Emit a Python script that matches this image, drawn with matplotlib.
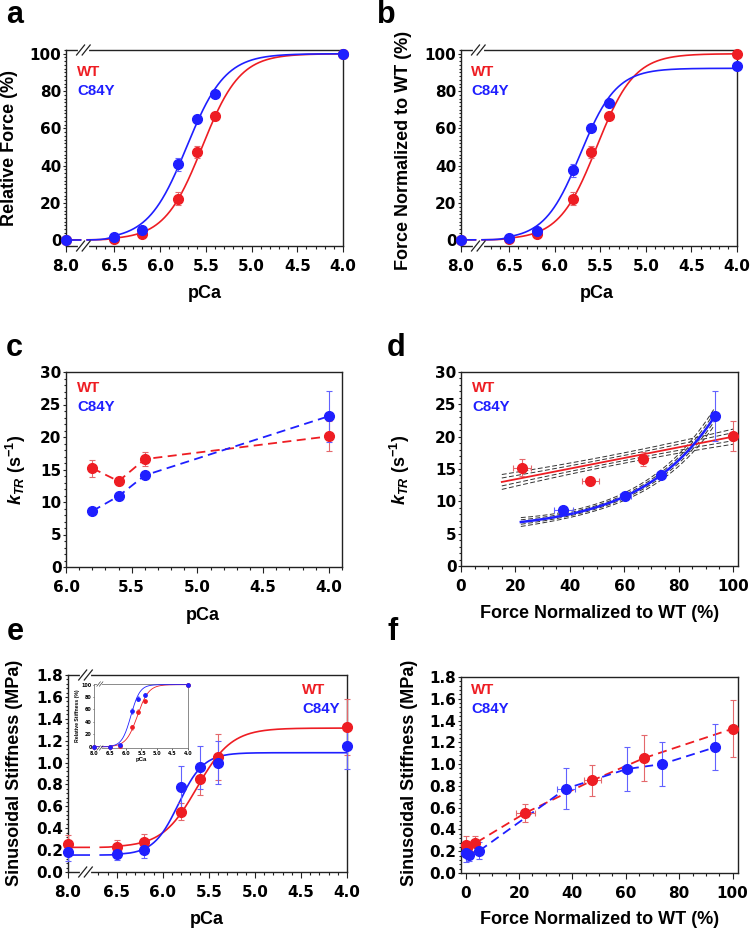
import numpy as np
import matplotlib
matplotlib.use('Agg')
import matplotlib.pyplot as plt
from matplotlib.ticker import MultipleLocator, FixedLocator

plt.rcParams['font.family'] = ['Liberation Sans', 'DejaVu Sans']
plt.rcParams['font.weight'] = 'bold'
plt.rcParams['mathtext.fontset'] = 'custom'
plt.rcParams['mathtext.rm'] = 'Liberation Sans:bold'
plt.rcParams['mathtext.it'] = 'Liberation Sans:italic:bold'
plt.rcParams['mathtext.bf'] = 'Liberation Sans:bold'

W, H = 750, 931
RED = '#ee1d23'
BLUE = '#1f1fff'
RED_ERR = '#e4686c'
BLUE_ERR = '#6262ff'

# ---- data ----
pca = [8.0, 6.5, 6.2, 5.8, 5.6, 5.4, 4.0]

force_wt = [0.3, 0.6, 3.6, 22.4, 47.5, 66.8, 100.0]
force_wt_err = [0.2, 0.5, 0.8, 3.5, 3.2, 1.5, 0.0]
force_c84y = [0.2, 1.8, 5.4, 40.7, 64.9, 78.3, 100.0]
force_c84y_err = [0.2, 0.6, 1.0, 3.6, 2.0, 1.5, 0.0]

normforce_wt = force_wt
normforce_wt_err = force_wt_err
normforce_c84y = [0.3, 1.4, 5.2, 37.6, 60.4, 73.5, 93.5]
normforce_c84y_err = [0.2, 0.5, 1.0, 3.5, 2.0, 1.5, 0.8]

# Hill fits: pCa50, nH, bottom, top
fit_force_wt = (5.54, 2.1, 0.3, 100.0)
fit_force_c84y = (5.71, 2.05, 0.2, 100.0)
fit_normforce_wt = (5.54, 2.1, 0.3, 100.0)
fit_normforce_c84y = (5.72, 2.2, 0.3, 92.2)

ktr_pca = [5.8, 5.6, 5.4, 4.0]
ktr_wt = [15.2, 13.2, 16.6, 20.1]
ktr_wt_err = [1.3, 0.6, 1.1, 2.3]
ktr_c84y = [8.6, 10.9, 14.1, 23.2]
ktr_c84y_err = [0.3, 0.6, 0.3, 3.9]
ktr_force_wt = [22.4, 47.5, 66.8, 100.0]
ktr_force_wt_err = [3.3, 3.2, 1.5, 0.0]
ktr_force_c84y = [37.6, 60.4, 73.5, 93.5]
ktr_force_c84y_err = [3.5, 2.0, 1.5, 0.8]

# kTR-force fits: WT linear (intercept, slope), C84Y exponential (offset, amp, rate)
ktr_fit_wt = (11.76, 0.0824)
ktr_fit_wt_range = (15, 100)
ktr_fit_c84y = (5.5, 0.581, 0.0366)
ktr_fit_c84y_range = (22, 93)

stiff_wt = [0.258, 0.23, 0.273, 0.552, 0.85, 1.055, 1.325]
stiff_wt_err = [0.08, 0.06, 0.07, 0.08, 0.145, 0.21, 0.26]
stiff_c84y = [0.18, 0.166, 0.205, 0.775, 0.955, 1.0, 1.155]
stiff_c84y_err = [0.08, 0.06, 0.08, 0.19, 0.2, 0.2, 0.21]
fit_stiff_wt = (5.63, 2.3, 0.225, 1.315)
fit_stiff_c84y = (5.83, 3.2, 0.155, 1.09)

rel_stiff_wt = [0, 0, 2, 31, 56, 73, 100]
rel_stiff_wt_err = [0, 0, 1, 4, 4, 3, 0]
rel_stiff_c84y = [0, 0, 3, 58, 77, 83, 100]
rel_stiff_c84y_err = [0, 0, 1, 5, 4, 3, 0]
fit_rel_wt = (5.63, 2.4, 0.0, 100.0)
fit_rel_c84y = (5.84, 3.0, 0.0, 100.0)

pca_ticks = [8.0, 6.5, 6.0, 5.5, 5.0, 4.5, 4.0]


def to_pos(p):
    # squeeze the 8.0 .. 6.5 stretch (broken axis)
    p = np.asarray(p, float)
    return np.where(p > 6.5, 6.5 + (p - 6.5) * 0.53 / 1.5, p)


def hill(p, fit):
    p50, n, lo, hi = fit
    return lo + (hi - lo) / (1 + 10 ** (n * (p - p50)))


fig = plt.figure(figsize=(W / 100, H / 100), dpi=100)


def px_ax(l, t, r, b):
    return fig.add_axes([l / W, 1 - b / H, (r - l) / W, (b - t) / H])


def ftext(x, y, s, **kw):
    fig.text(x / W, 1 - y / H, s, **kw)


def style(ax, fs=11, lw=1.0, ml=4, mn=2, xpad=5.5, ypad=0.8, yl=2.5):
    for sp in ax.spines.values():
        sp.set_linewidth(lw)
        sp.set_color('#222222')
    ax.tick_params(which='both', direction='out', top=False, right=False,
                   width=0.8 * lw, colors='#222222', labelcolor='black',
                   labelfontfamily='DejaVu Sans', labelsize=fs)
    ax.tick_params(axis='x', which='major', length=ml, pad=xpad)
    ax.tick_params(axis='x', which='minor', length=mn)
    ax.tick_params(axis='y', which='major', length=yl, pad=ypad)
    ax.tick_params(axis='y', which='minor', length=mn * 0.8)
    for lab in ax.get_xticklabels() + ax.get_yticklabels():
        lab.set_fontweight('bold')


def pca_axis(ax):
    ax.set_xlim(to_pos(8.0), 4.0)
    ax.set_xticks(to_pos(pca_ticks))
    ax.set_xticklabels(['%.1f' % v for v in pca_ticks])
    minors = [round(v, 1) for v in np.arange(4.1, 6.75, 0.1) if round(v * 10) % 5 != 0]
    ax.xaxis.set_minor_locator(FixedLocator(minors))


def draw_break(ax, xc, s=1.0):
    bb = ax.get_position()
    wpx, hpx = bb.width * W, bb.height * H
    x0, x1 = ax.get_xlim()
    xf = (xc - x0) / (x1 - x0)
    for y in (0.0, 1.0):
        ax.plot([xf - 3.5 * s / wpx, xf + 3.5 * s / wpx], [y, y], color='white',
                lw=3 * s, transform=ax.transAxes, clip_on=False, zorder=6)
        for d in (-2.8 * s, 2.8 * s):
            ax.plot([xf + (d - 4 * s) / wpx, xf + (d + 4 * s) / wpx],
                    [y - 5 * s / hpx, y + 5 * s / hpx], color='#222222', lw=0.9 * s,
                    transform=ax.transAxes, clip_on=False, zorder=7)


def hill_line(ax, fit, color, gap, lw=1.2):
    p = np.linspace(8.0, 4.0, 800)
    x = to_pos(p)
    y = hill(p, fit)
    y[(x < gap[0]) & (x > gap[1])] = np.nan
    ax.plot(x, y, color=color, lw=lw, zorder=3)


def points(ax, x, y, yerr, color, ecolor, xerr=None, ms=7.0, cap=2.5, elw=0.8):
    eb = ax.errorbar(x, y, yerr=yerr, xerr=xerr, fmt='o', color=color, ms=ms,
                     mec=color, ecolor=ecolor, elinewidth=elw, capsize=cap,
                     capthick=elw, zorder=4)
    for a in [eb[0], *eb[1], *eb[2]]:
        a.set_clip_on(False)


def legend(x, y, dy=19, fs=10.8):
    ftext(x, y, 'WT', color=RED, fontsize=fs, weight='bold', va='center', ha='left')
    ftext(x, y + dy, 'C84Y', color=BLUE, fontsize=fs, weight='bold', va='center', ha='left')


LAB = 13.0
LET = 22

# ---- a ----
ax = px_ax(66, 50, 343, 246)
pca_axis(ax)
ax.set_ylim(-3, 102)
ax.set_yticks(range(0, 101, 20))
ax.yaxis.set_minor_locator(MultipleLocator(2))
hill_line(ax, fit_force_wt, RED, (6.87, 6.80))
hill_line(ax, fit_force_c84y, BLUE, (6.87, 6.80))
points(ax, to_pos(pca), force_wt, force_wt_err, RED, RED_ERR)
points(ax, to_pos(pca), force_c84y, force_c84y_err, BLUE, BLUE_ERR)
style(ax)
draw_break(ax, 6.84)
legend(77, 72)
ftext(10, 148, 'Relative Force (%)', rotation=90, ha='center', va='center', fontsize=LAB)
ftext(205, 293, 'pCa', ha='center', va='center', fontsize=LAB)
ftext(6, 23, 'a', fontsize=LET, weight='bold', va='baseline')

# ---- b ----
ax = px_ax(461, 50, 737, 246)
pca_axis(ax)
ax.set_ylim(-3, 102)
ax.set_yticks(range(0, 101, 20))
ax.yaxis.set_minor_locator(MultipleLocator(2))
hill_line(ax, fit_normforce_wt, RED, (6.87, 6.80))
hill_line(ax, fit_normforce_c84y, BLUE, (6.87, 6.80))
points(ax, to_pos(pca), normforce_wt, normforce_wt_err, RED, RED_ERR)
points(ax, to_pos(pca), normforce_c84y, normforce_c84y_err, BLUE, BLUE_ERR)
style(ax)
draw_break(ax, 6.84)
legend(471, 72)
ftext(404, 150, 'Force Normalized to WT (%)', rotation=90, ha='center', va='center', fontsize=LAB)
ftext(597, 293, 'pCa', ha='center', va='center', fontsize=LAB)
ftext(377, 23, 'b', fontsize=LET, weight='bold', va='baseline')

# ---- c ----
ax = px_ax(66, 372, 342, 567)
ax.set_xlim(6.0, 3.9)
ax.set_xticks([6.0, 5.5, 5.0, 4.5, 4.0])
ax.set_xticklabels(['6.0', '5.5', '5.0', '4.5', '4.0'])
ax.xaxis.set_minor_locator(MultipleLocator(0.1))
ax.set_ylim(0, 30)
ax.set_yticks(range(0, 31, 5))
ax.yaxis.set_minor_locator(MultipleLocator(1))
ax.plot(ktr_pca, ktr_wt, color=RED, lw=1.3, dashes=(5, 3), zorder=3)
ax.plot(ktr_pca, ktr_c84y, color=BLUE, lw=1.3, dashes=(5, 3), zorder=3)
points(ax, ktr_pca, ktr_wt, ktr_wt_err, RED, RED_ERR)
points(ax, ktr_pca, ktr_c84y, ktr_c84y_err, BLUE, BLUE_ERR)
style(ax)
legend(77, 388)
ftext(16, 470, r'$k_{TR}$ (s$^{\mathregular{-1}}$)', rotation=90, ha='center', va='center', fontsize=LAB)
ftext(203, 615, 'pCa', ha='center', va='center', fontsize=LAB)
ftext(6, 356, 'c', fontsize=LET, weight='bold', va='baseline')

# ---- d ----
ax = px_ax(461, 372, 738, 566)
ax.set_xlim(0, 101.8)
ax.set_xticks(range(0, 101, 20))
ax.xaxis.set_minor_locator(MultipleLocator(5))
ax.set_ylim(0, 30)
ax.set_yticks(range(0, 31, 5))
ax.yaxis.set_minor_locator(MultipleLocator(1))
xw = np.linspace(*ktr_fit_wt_range, 200)
yw = ktr_fit_wt[0] + ktr_fit_wt[1] * xw
xc = np.linspace(*ktr_fit_c84y_range, 200)
yc = ktr_fit_c84y[0] + ktr_fit_c84y[1] * np.exp(ktr_fit_c84y[2] * xc)
band = dict(color='#333333', lw=0.7, dashes=(5, 2.5), zorder=2)
for k in (1, -1):
    ax.plot(xw, yw + k * (0.4 + 0.00012 * (xw - 57) ** 2), **band)
    ax.plot(xw, yw + k * (0.8 + 0.0002 * (xw - 57) ** 2), **band)
    ax.plot(xc, yc + k * (0.25 + 0.00018 * (xc - 45) ** 2), **band)
    ax.plot(xc, yc + k * (0.5 + 0.00035 * (xc - 45) ** 2), **band)
ax.plot(xw, yw, color=RED, lw=1.3, zorder=3)
ax.plot(xc, yc, color=BLUE, lw=1.8, zorder=3)
points(ax, ktr_force_wt, ktr_wt, ktr_wt_err, RED, RED_ERR, xerr=ktr_force_wt_err)
points(ax, ktr_force_c84y, ktr_c84y, ktr_c84y_err, BLUE, BLUE_ERR, xerr=ktr_force_c84y_err)
style(ax)
legend(472, 388)
ftext(400, 470, r'$k_{TR}$ (s$^{\mathregular{-1}}$)', rotation=90, ha='center', va='center', fontsize=LAB)
ftext(600, 614, 'Force Normalized to WT (%)', ha='center', va='center', fontsize=LAB)
ftext(387, 356, 'd', fontsize=LET, weight='bold', va='baseline')

# ---- e ----
ax = px_ax(68, 675, 347, 872)
pca_axis(ax)
ax.set_ylim(0, 1.8)
ax.set_yticks(np.arange(0, 1.81, 0.2))
ax.set_yticklabels(['%.1f' % v for v in np.arange(0, 1.81, 0.2)])
ax.yaxis.set_minor_locator(MultipleLocator(0.04))
hill_line(ax, fit_stiff_wt, RED, (6.80, 6.68))
hill_line(ax, fit_stiff_c84y, BLUE, (6.80, 6.68))
points(ax, to_pos(pca), stiff_wt, stiff_wt_err, RED, RED_ERR)
points(ax, to_pos(pca), stiff_c84y, stiff_c84y_err, BLUE, BLUE_ERR)
style(ax)
draw_break(ax, 6.84)
legend(302, 690)
ftext(15, 773, 'Sinusoidal Stiffness (MPa)', rotation=90, ha='center', va='center', fontsize=LAB)
ftext(207, 920, 'pCa', ha='center', va='center', fontsize=LAB)
ftext(7, 640, 'e', fontsize=LET, weight='bold', va='baseline')

# inset of e
ax = px_ax(94, 684, 188, 748)
pca_axis(ax)
ax.set_ylim(-2, 101)
ax.set_yticks(range(0, 101, 20))
hill_line(ax, fit_rel_wt, RED, (6.87, 6.78), lw=0.6)
hill_line(ax, fit_rel_c84y, BLUE, (6.87, 6.78), lw=0.6)
points(ax, to_pos(pca), rel_stiff_wt, rel_stiff_wt_err, RED, RED_ERR, ms=2.4, cap=0.8, elw=0.4)
points(ax, to_pos(pca), rel_stiff_c84y, rel_stiff_c84y_err, BLUE, BLUE_ERR, ms=2.4, cap=0.8, elw=0.4)
style(ax, fs=3.5, lw=0.6, ml=1.2, mn=0.6, xpad=1, ypad=0.6, yl=1.0)
ax.xaxis.set_minor_locator(FixedLocator([]))
for sp in ax.spines.values():
    sp.set_color('#777777')
draw_break(ax, 6.84, s=0.45)
ax.set_xlabel('pCa', fontsize=4.4, weight='bold', labelpad=1)
ax.set_ylabel('Relative Stiffness (%)', fontsize=3.7, weight='bold', labelpad=1)

# ---- f ----
ax = px_ax(461, 677, 738, 873)
ax.set_xlim(-1.7, 102)
ax.set_xticks(range(0, 101, 20))
ax.xaxis.set_minor_locator(MultipleLocator(5))
ax.set_ylim(0, 1.8)
ax.set_yticks(np.arange(0, 1.81, 0.2))
ax.set_yticklabels(['%.1f' % v for v in np.arange(0, 1.81, 0.2)])
ax.yaxis.set_minor_locator(MultipleLocator(0.04))
ax.plot(normforce_wt, stiff_wt, color=RED, lw=1.3, dashes=(5, 3), zorder=3)
ax.plot(normforce_c84y, stiff_c84y, color=BLUE, lw=1.3, dashes=(5, 3), zorder=3)
points(ax, normforce_wt, stiff_wt, stiff_wt_err, RED, RED_ERR, xerr=normforce_wt_err)
points(ax, normforce_c84y, stiff_c84y, stiff_c84y_err, BLUE, BLUE_ERR, xerr=normforce_c84y_err)
style(ax)
legend(471, 690)
ftext(410, 773, 'Sinusoidal Stiffness (MPa)', rotation=90, ha='center', va='center', fontsize=LAB)
ftext(600, 920, 'Force Normalized to WT (%)', ha='center', va='center', fontsize=LAB)
ftext(387, 640, 'f', fontsize=LET, weight='bold', va='baseline')

fig.savefig('out.png', dpi=100)
